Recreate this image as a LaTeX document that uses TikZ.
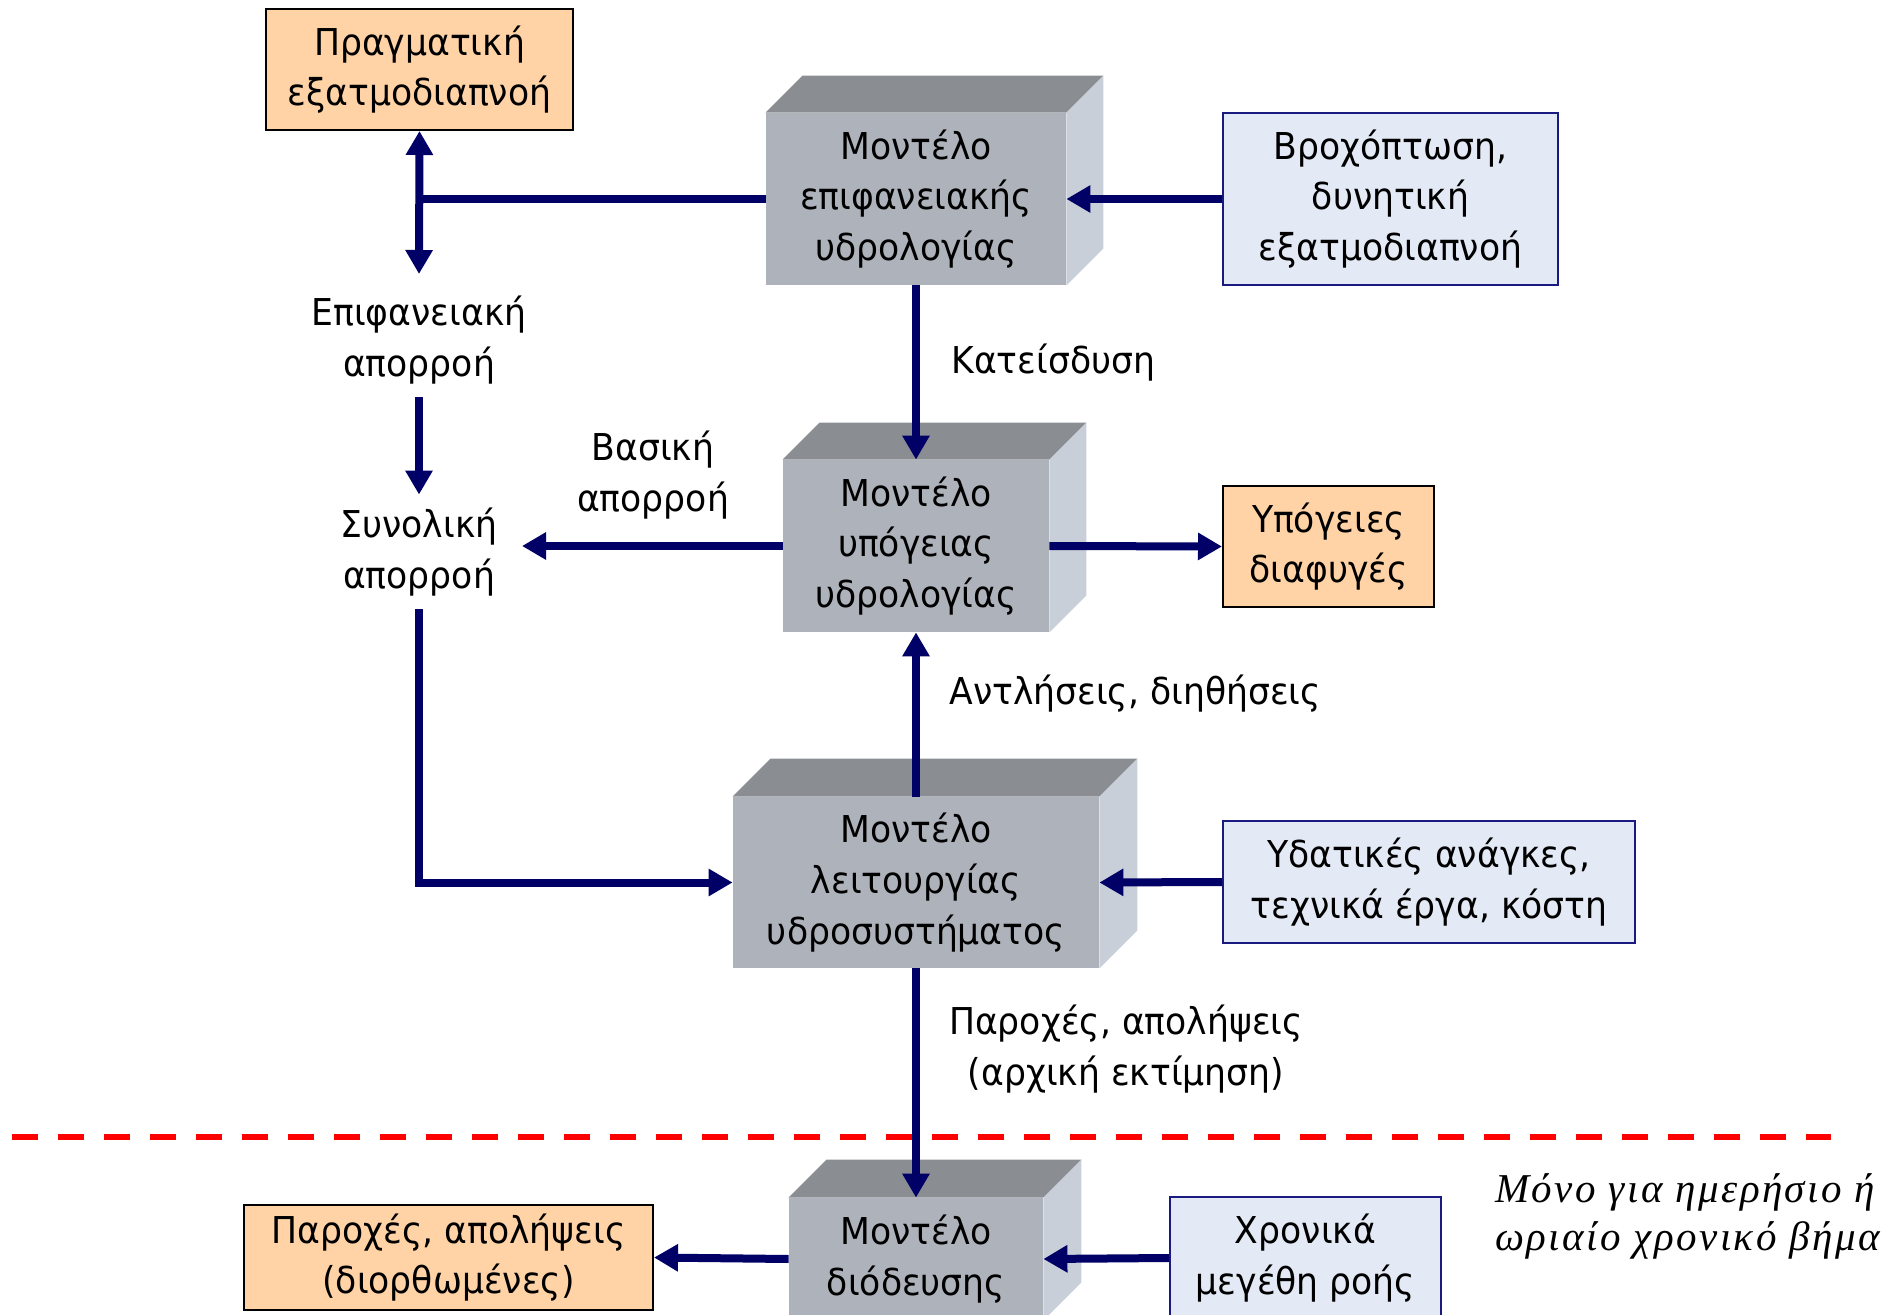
\documentclass[tikz,border=0pt]{standalone}
\usepackage{fontspec}
\setmainfont[FakeStretch=0.935]{DejaVu Sans}
\newfontfamily\notefont[LetterSpace=6]{Liberation Serif}
\usetikzlibrary{arrows.meta}
\definecolor{navy}{RGB}{0,0,102}
\definecolor{peach}{HTML}{FFD3A6}
\definecolor{paleblue}{HTML}{E3E9F5}
\definecolor{boxblue}{HTML}{1A1A80}
\definecolor{cubefrontc}{HTML}{AEB2BA}
\definecolor{cubetopc}{HTML}{8A8D92}
\definecolor{cubesidec}{HTML}{C9CFD9}
\newcommand\figfont{\fontsize{18.5pt}{25.4pt}\selectfont}
\newcommand\drawcube[2]{%
  \fill[cubetopc] (#1.north west) -- ++(#2,#2) -- ([shift={(#2,#2)}]#1.north east) -- (#1.north east) -- cycle;
  \fill[cubesidec] (#1.north east) -- ++(#2,#2) -- ([shift={(#2,#2)}]#1.south east) -- (#1.south east) -- cycle;
}
\tikzset{
  cubefront/.style={fill=cubefrontc, inner sep=0pt, align=center, font=\figfont},
  orangebox/.style={draw=black, line width=1pt, fill=peach, inner sep=0pt, align=center, font=\figfont},
  bluebox/.style={draw=boxblue, line width=1pt, fill=paleblue, inner sep=0pt, align=center, font=\figfont},
  lbl/.style={align=center, font=\figfont, inner sep=6.5pt},
  flow/.style={draw=navy, line width=4pt},
  arr/.style={flow, -{Triangle[length=12pt,width=13pt]}},
  darr/.style={flow, {Triangle[length=12pt,width=13pt]}-{Triangle[length=12pt,width=13pt]}},
  cutline/.style={draw=red, line width=3.3pt, dash pattern=on 13pt off 10pt}
}
\begin{document}
\begin{tikzpicture}[x=0.5pt,y=-0.5pt]
\useasboundingbox (0,0) rectangle (1895,1315);

% dashed separator
\coordinate (cutL) at (12,1137);
\coordinate (cutR) at (1831,1137);
\draw[cutline] (cutL) -- (cutR);

% cubes
\node[cubefront, minimum width=150pt, minimum height=86pt] (c1) at (916,199) {Μοντέλο\\επιφανειακής\\υδρολογίας};
\drawcube{c1}{18.5pt}
\node[cubefront, minimum width=133pt, minimum height=86pt] (c2) at (916,546) {Μοντέλο\\υπόγειας\\υδρολογίας};
\drawcube{c2}{18.5pt}
\node[cubefront, minimum width=183pt, minimum height=85.5pt] (c3) at (916,882.5) {Μοντέλο\\λειτουργίας\\υδροσυστήματος};
\drawcube{c3}{19pt}
\node[cubefront, minimum width=127pt, minimum height=61pt] (c4) at (916,1259) {Μοντέλο\\διόδευσης};
\drawcube{c4}{19pt}

% boxes
\node[orangebox, minimum width=153.5pt, minimum height=60.5pt] (pe) at (419.5,69.5) {Πραγματική\\εξατμοδιαπνοή};
\node[bluebox, minimum width=167.5pt, minimum height=86pt] (rain) at (1390.5,199) {Βροχόπτωση,\\δυνητική\\εξατμοδιαπνοή};
\node[orangebox, minimum width=105.5pt, minimum height=60.5pt] (gw) at (1328.5,546.5) {Υπόγειες\\διαφυγές};
\node[bluebox, minimum width=206pt, minimum height=61pt] (dem) at (1429,882) {Υδατικές ανάγκες,\\τεχνικά έργα, κόστη};
\node[bluebox, minimum width=135.5pt, minimum height=61pt] (fin) at (1305.5,1258) {Χρονικά\\μεγέθη ροής};
\node[orangebox, minimum width=204.5pt, minimum height=52.5pt] (out) at (448.5,1257.5) {Παροχές, απολήψεις\\(διορθωμένες)};

% text labels
\node[lbl] (surf) at (419,340) {Επιφανειακή\\απορροή};
\node[lbl] (tot) at (419,552) {Συνολική\\απορροή};
\node[lbl, inner sep=0pt] (base) at (653,475) {Βασική\\απορροή};
\node[lbl, anchor=west, inner sep=0pt] (inf) at (951,363) {Κατείσδυση};
\node[lbl, anchor=west, inner sep=0pt] (pump) at (949,694) {Αντλήσεις, διηθήσεις};
\node[lbl, inner sep=0pt] (flowlab) at (1126,1049) {Παροχές, απολήψεις\\(αρχική εκτίμηση)};
\node[anchor=west, align=left, inner sep=0pt, font=\notefont\itshape\fontsize{20.5pt}{24pt}\selectfont] (note) at (1495,1216) {Μόνο για ημερήσιο ή\\ωριαίο χρονικό βήμα};

% connectors
\coordinate (surfTop) at (419,274);
\coordinate (baseEnd) at (522,546);
\draw[darr] (pe.south) -- (surfTop);
\draw[flow] (c1.west) -- (c1.west -| pe.south);
\draw[arr] (rain.west) -- (c1.east);
\draw[arr] (surf) -- (tot);
\draw[arr] (c1.south) -- (c2.north);
\draw[arr] (c2.west) -- (baseEnd);
\draw[arr] (c2.east) -- (gw.west);
\draw[arr] (c3.north) -- (c2.south);
\draw[arr] (tot.south) |- (c3.west);
\draw[arr] (dem.west) -- (c3.east);
\draw[arr] (c3.south) -- (c4.north);
\draw[arr] (fin.west) -- (c4.east);
\draw[arr] (c4.west) -- (out.east);
\end{tikzpicture}
\end{document}
